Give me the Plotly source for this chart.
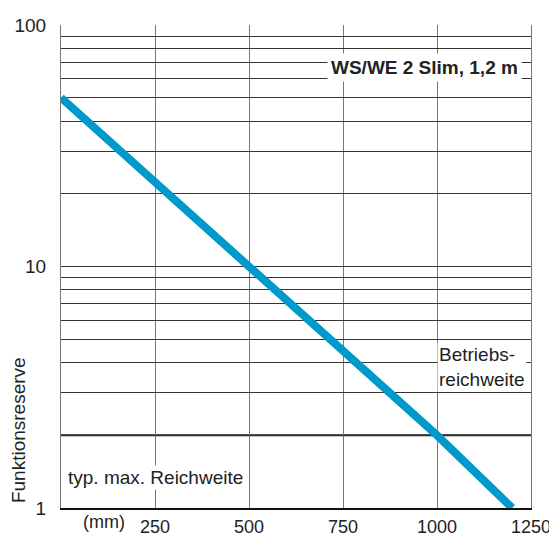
import plotly.graph_objects as go

# Funktionsreserve curve (x in mm, y = excess gain)
distance_mm = [0, 500, 1000, 1200]
reserve = [50, 10, 2, 1]

x_ticks = [250, 500, 750, 1000, 1250]
y_ticks = [1, 2, 3, 4, 5, 6, 7, 8, 9, 10, 20, 30, 40, 50, 60, 70, 80, 90, 100]
y_labels = ["1" if v == 1 else "10" if v == 10 else "100" if v == 100 else "" for v in y_ticks]
betrieb_level = 2

font = "Liberation Sans"
fsize = 19
txt = "#222222"

fig = go.Figure()
fig.add_trace(go.Scatter(
    x=distance_mm, y=reserve, mode="lines",
    line=dict(color="#0099CC", width=8),
    hoverinfo="skip", showlegend=False,
))

fig.add_hline(y=betrieb_level, line=dict(color="#111111", width=2), layer="below")

fig.add_annotation(x=0.981, xref="paper", y=0.942, yref="paper", xanchor="right",
                   text="<b>WS/WE 2 Slim, 1,2 m</b>", showarrow=False,
                   bgcolor="white", borderpad=3,
                   font=dict(family=font, size=fsize, color=txt))
fig.add_annotation(x=0.992, xref="paper", y=0.24, yref="paper", xanchor="right",
                   text="Betriebs-<br>reichweite", showarrow=False, align="left",
                   bgcolor="white", borderpad=1,
                   font=dict(family=font, size=fsize, color=txt))
fig.add_annotation(x=0.01, xref="paper", y=0.037, yref="paper", xanchor="left",
                   text="typ. max. Reichweite", showarrow=False,
                   bgcolor="white", borderpad=1,
                   font=dict(family=font, size=fsize, color=txt))
fig.add_annotation(x=0.042, xref="paper", y=-0.004, yref="paper", yanchor="top",
                   text="(mm)", showarrow=False,
                   font=dict(family=font, size=18, color=txt))
fig.add_annotation(x=-0.0915, xref="paper", y=0.006, yref="paper",
                   xanchor="center", yanchor="bottom",
                   text="Funktionsreserve", showarrow=False, textangle=-90,
                   font=dict(family=font, size=fsize, color=txt))

fig.update_xaxes(range=[0, 1250], tickvals=x_ticks,
                 showgrid=True, gridcolor="#777777", gridwidth=1,
                 showline=True, linecolor="#111111", linewidth=2,
                 ticks="", ticklabelstandoff=1, zeroline=False,
                 tickfont=dict(family=font, size=18, color=txt))
fig.update_yaxes(type="log", range=[0, 2], tickvals=y_ticks, ticktext=y_labels,
                 showgrid=True, gridcolor="#333333", gridwidth=1,
                 showline=True, linecolor="#777777", linewidth=1, mirror=True,
                 ticks="", ticklabelstandoff=10, zeroline=False,
                 tickfont=dict(family=font, size=fsize, color=txt))

# page body adds an 8px offset, so the figure is drawn 8px smaller
fig.update_layout(
    width=549, height=529,
    margin=dict(l=53, r=26, t=17, b=29, autoexpand=False),
    plot_bgcolor="white", paper_bgcolor="white",
)

fig.write_html("out.html")
